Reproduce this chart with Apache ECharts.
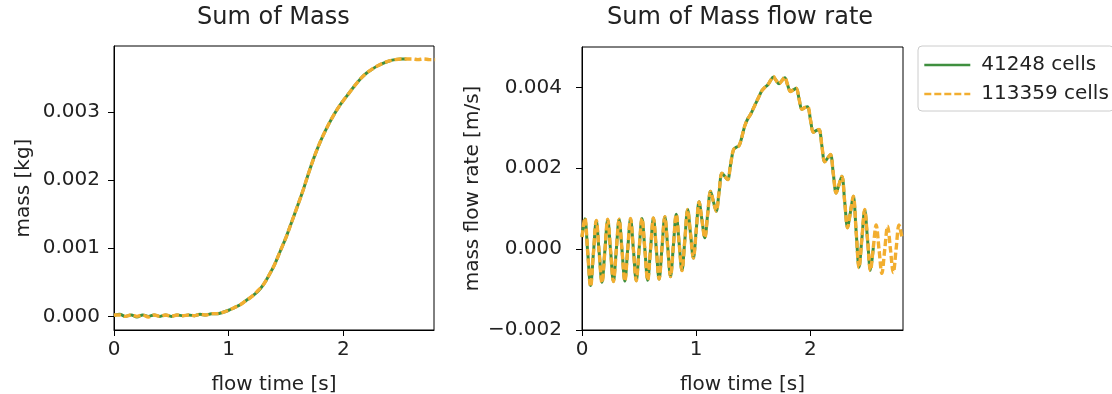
<!DOCTYPE html>
<html>
<head>
<meta charset="utf-8">
<script src="https://cdn.jsdelivr.net/npm/echarts@6/dist/echarts.min.js"></script>
<style>
html,body{margin:0;padding:0;background:#fff;}
#chart{width:1112px;height:394px;}
</style>
</head>
<body>
<div id="chart"></div>
<script>
// ---------- DATA ----------
const seriesNames = ['41248 cells', '113359 cells'];
const titles = ['Sum of Mass', 'Sum of Mass flow rate'];
const xTicks = [0, 1, 2];
const massTicks = [0, 0.001, 0.002, 0.003];
const flowTicks = [-0.002, 0, 0.002, 0.004];

const timeMass = [0,0.05,0.1,0.15,0.2,0.25,0.3,0.35,0.4,0.45,0.5,0.55,0.6,0.65,0.7,0.75,0.8,0.85,0.9,0.95,
  1.0,1.05,1.1,1.15,1.2,1.25,1.3,1.35,1.4,1.45,1.5,1.55,1.6,1.65,1.7,1.75,1.8,1.85,1.9,1.95,
  2.0,2.05,2.1,2.15,2.2,2.25,2.3,2.35,2.4,2.45,2.5,2.55,2.6,2.65,2.7,2.75,2.8];

const massGreen = [0.00001,0.00003,0.00000,0.00002,-0.00001,0.00002,0.00000,0.00002,0.00000,0.00002,
  0.00000,0.00002,0.00001,0.00002,0.00001,0.00003,0.00002,0.00004,0.00004,0.00006,
  0.00009,0.00013,0.00017,0.00023,0.00029,0.00036,0.00046,0.00060,0.00076,0.00096,
  0.00116,0.00139,0.00162,0.00186,0.00212,0.00236,0.00257,0.00275,0.00291,0.00305,
  0.00317,0.00328,0.00339,0.00349,0.00357,0.00363,0.00368,0.00372,0.00375,0.00377,
  0.00378,0.00378];

const massOrange = [0.00002,0.00002,0.00000,0.00002,0.00000,0.00002,-0.00001,0.00002,0.00000,0.00002,
  0.00000,0.00002,0.00001,0.00002,0.00001,0.00003,0.00002,0.00004,0.00004,0.00006,
  0.00009,0.00013,0.00017,0.00023,0.00029,0.00037,0.00046,0.00060,0.00076,0.00096,
  0.00116,0.00139,0.00162,0.00186,0.00212,0.00236,0.00257,0.00275,0.00291,0.00305,
  0.00317,0.00328,0.00339,0.00349,0.00357,0.00363,0.00368,0.00372,0.00375,0.00377,
  0.00378,0.00378,0.00378,0.00377,0.00378,0.00377,0.00377];

const timeFlow = [0,0.025,0.05,0.075,0.1,0.125,0.15,0.175,0.2,0.225,0.25,0.275,0.3,0.325,0.35,0.375,0.4,0.425,0.45,0.475,
  0.5,0.525,0.55,0.575,0.6,0.625,0.65,0.675,0.7,0.725,0.75,0.775,0.8,0.825,0.85,0.875,0.9,0.925,0.95,0.975,
  1.0,1.025,1.05,1.075,1.1,1.125,1.15,1.175,1.2,1.225,1.25,1.275,1.3,1.325,1.35,1.375,1.4,1.425,1.45,1.475,
  1.5,1.525,1.55,1.575,1.6,1.625,1.65,1.675,1.7,1.725,1.75,1.775,1.8,1.825,1.85,1.875,1.9,1.925,1.95,1.975,
  2.0,2.025,2.05,2.075,2.1,2.125,2.15,2.175,2.2,2.225,2.25,2.275,2.3,2.325,2.35,2.375,2.4,2.425,2.45,2.475,
  2.5,2.525,2.55,2.575,2.6,2.625,2.65,2.675,2.7,2.725,2.75,2.775,2.8];

const flowGreen = [0.00030,0.00075,-0.00008,-0.00090,-0.00010,0.00070,-0.00007,-0.00082,-0.00005,0.00073,
  -0.00003,-0.00080,-0.00003,0.00074,-0.00002,-0.00079,-0.00001,0.00075,-0.00001,-0.00078,
  0.00000,0.00076,0.00000,-0.00077,0.00000,0.00077,0.00002,-0.00074,0.00003,0.00080,
  0.00006,-0.00068,0.00009,0.00086,0.00016,-0.00053,0.00022,0.00098,0.00038,-0.00022,
  0.00047,0.00117,0.00072,0.00028,0.00086,0.00143,0.00118,0.00094,0.00141,0.00188,
  0.00180,0.00172,0.00208,0.00245,0.00252,0.00256,0.00278,0.00305,0.00322,0.00333,
  0.00348,0.00363,0.00378,0.00392,0.00400,0.00406,0.00417,0.00426,0.00417,0.00409,
  0.00417,0.00424,0.00406,0.00390,0.00394,0.00398,0.00372,0.00346,0.00350,0.00352,
  0.00320,0.00289,0.00293,0.00296,0.00255,0.00216,0.00225,0.00234,0.00186,0.00139,
  0.00160,0.00180,0.00116,0.00053,0.00092,0.00131,0.00043,-0.00045,0.00026,0.00097,
  0.00022,-0.00052,0.00004];

const flowOrange = [0.00030,0.00077,-0.00008,-0.00093,-0.00010,0.00071,-0.00007,-0.00083,-0.00005,0.00074,
  -0.00003,-0.00080,-0.00003,0.00074,-0.00002,-0.00079,-0.00001,0.00076,-0.00001,-0.00078,
  0.00000,0.00076,0.00000,-0.00077,0.00000,0.00077,0.00002,-0.00074,0.00003,0.00080,
  0.00006,-0.00068,0.00009,0.00086,0.00016,-0.00053,0.00022,0.00098,0.00038,-0.00022,
  0.00047,0.00117,0.00072,0.00028,0.00086,0.00143,0.00118,0.00094,0.00141,0.00188,
  0.00180,0.00172,0.00208,0.00245,0.00252,0.00256,0.00278,0.00305,0.00322,0.00333,
  0.00348,0.00363,0.00378,0.00392,0.00400,0.00406,0.00417,0.00427,0.00417,0.00409,
  0.00417,0.00425,0.00406,0.00390,0.00394,0.00398,0.00372,0.00346,0.00350,0.00353,
  0.00320,0.00289,0.00293,0.00296,0.00255,0.00216,0.00225,0.00234,0.00186,0.00139,
  0.00160,0.00180,0.00116,0.00053,0.00092,0.00131,0.00043,-0.00046,0.00026,0.00098,
  0.00022,-0.00053,0.00004,0.00060,0.00000,-0.00060,-0.00001,0.00057,0.00000,-0.00058,
  0.00001,0.00060,0.00030];

// ---------- STYLE ----------
const GREEN = '#3f8f3f';
const ORANGE = '#f2ae30';
const FONT = 'DejaVu Sans';
const TXT = '#222';

function pairs(t, v) { return v.map((y, i) => [t[i], y]); }
function fmt3(v) { return (v < 0 ? '\u2212' : '') + Math.abs(v).toFixed(3); }

function xAxisCfg(grid, max) {
  return {
    type: 'value', gridIndex: grid, min: 0, max: max,
    name: 'flow time [s]', nameLocation: 'middle', nameGap: 45,
    nameTextStyle: {fontFamily: FONT, fontSize: 20, color: TXT},
    axisLine: {show: true, onZero: false, lineStyle: {color: '#000', width: 1}},
    axisTick: {show: true, length: 6, customValues: xTicks, lineStyle: {color: '#000'}},
    axisLabel: {customValues: xTicks, margin: 10, fontFamily: FONT, fontSize: 20, color: TXT,
      formatter: v => String(v)},
    splitLine: {show: false}
  };
}
function yAxisCfg(grid, min, max, ticks, name, gap, margin) {
  return {
    type: 'value', gridIndex: grid, min: min, max: max,
    name: name, nameLocation: 'middle', nameGap: gap,
    nameTextStyle: {fontFamily: FONT, fontSize: 20, color: TXT},
    axisLine: {show: true, onZero: false, lineStyle: {color: '#000', width: 1}},
    axisTick: {show: true, length: 6, customValues: ticks, lineStyle: {color: '#000'}},
    axisLabel: {customValues: ticks, margin: margin, fontFamily: FONT, fontSize: 20, color: TXT,
      formatter: fmt3},
    splitLine: {show: false}
  };
}
function lineSeries(name, x, y, data, color, dashed) {
  return {
    name: name, type: 'line', xAxisIndex: x, yAxisIndex: y,
    data: data, showSymbol: false, symbol: 'none', smooth: 0.35,
    lineStyle: {color: color, width: dashed ? 3.4 : 3, type: dashed ? [7, 3] : 'solid', cap: 'butt'},
    itemStyle: {color: color},
    emphasis: {disabled: true}, z: dashed ? 3 : 2, clip: true
  };
}

const chart = echarts.init(document.getElementById('chart'), null, {renderer: 'canvas'});
chart.setOption({
  animation: false,
  backgroundColor: '#fff',
  title: [
    {text: titles[0], left: 197, top: 6, padding: 0,
     textStyle: {fontFamily: FONT, fontSize: 24, fontWeight: 'normal', color: TXT}},
    {text: titles[1], left: 607, top: 6, padding: 0,
     textStyle: {fontFamily: FONT, fontSize: 24, fontWeight: 'normal', color: TXT}}
  ],
  legend: {
    data: seriesNames, orient: 'vertical', left: 918, top: 46,
    padding: [9, 5, 7, 5], itemGap: 9, itemWidth: 46, itemHeight: 14,
    itemStyle: {opacity: 0, borderWidth: 0},
    lineStyle: {width: 2.6},
    borderColor: '#ccc', borderWidth: 1, borderRadius: 4,
    textStyle: {fontFamily: FONT, fontSize: 20, color: TXT, padding: [0, 0, 0, 6]}
  },
  grid: [
    {left: 114, top: 46, width: 320, height: 284, show: true, borderColor: '#000', borderWidth: 1,
     containLabel: false, outerBoundsMode: 'none'},
    {left: 582, top: 47, width: 321, height: 283, show: true, borderColor: '#000', borderWidth: 1,
     containLabel: false, outerBoundsMode: 'none'}
  ],
  xAxis: [xAxisCfg(0, 2.79), xAxisCfg(1, 2.81)],
  yAxis: [
    yAxisCfg(0, -0.0002, 0.00397, massTicks, 'mass [kg]', 80, 14),
    yAxisCfg(1, -0.002, 0.005, flowTicks, 'mass flow rate [m/s]', 99, 20)
  ],
  series: [
    lineSeries(seriesNames[0], 0, 0, pairs(timeMass, massGreen), GREEN, false),
    lineSeries(seriesNames[1], 0, 0, pairs(timeMass, massOrange), ORANGE, true),
    lineSeries(seriesNames[0], 1, 1, pairs(timeFlow, flowGreen), GREEN, false),
    lineSeries(seriesNames[1], 1, 1, pairs(timeFlow, flowOrange), ORANGE, true)
  ]
});
</script>
</body>
</html>
